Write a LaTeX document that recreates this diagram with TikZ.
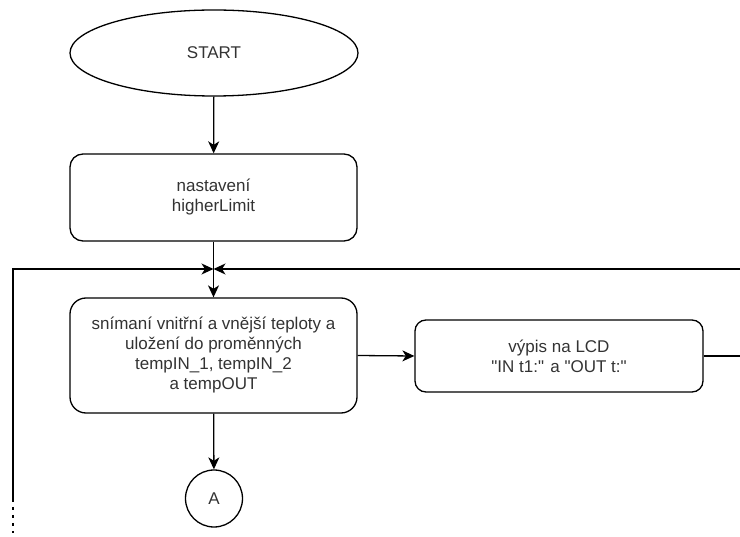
\documentclass[tikz,border=0pt]{standalone}
\usepackage{fontspec}
\setmainfont{Liberation Sans}
\usetikzlibrary{shapes.geometric,arrows.meta}
\definecolor{txt}{HTML}{333333}
\begin{document}
\begin{tikzpicture}[x=1pt,y=-1pt,
  line width=1.3pt,
  lbl/.style={font=\fontsize{17}{20}\selectfont, text=txt, align=center},
  procbox/.style={lbl, draw, rounded corners=#1, inner sep=0pt},
  procbox/.default=13pt,
  startshape/.style={lbl, draw, ellipse, inner sep=0pt, minimum width=288pt, minimum height=86pt},
  conn/.style={draw, circle, lbl, minimum size=57pt, inner sep=0pt},
  arr/.style={-{Stealth[length=12pt,width=11pt,inset=3.5pt]}}
]
\useasboundingbox (0,0) rectangle (740,537);

\node[startshape] (start) at (214,53) {START};
\node[procbox=13pt, minimum width=287pt, minimum height=87pt] (b1) at (213.5,197.5) {nastavení\\higherLimit};
\node[procbox=16pt, minimum width=287pt, minimum height=115pt] (b2) at (213.5,355.5)
  {snímaní vnitřní a vnější teploty a\\uložení do proměnných\\tempIN\_1, tempIN\_2\\a tempOUT};
\node[procbox=11pt, minimum width=288pt, minimum height=72pt] (b3) at (559,356)
  {výpis na LCD\\\textquotedbl IN t1:\textquotedbl{} a \textquotedbl OUT t:\textquotedbl};
\node[conn] (A) at (214,498.5) {A};

\coordinate (J) at (213.5,269);
\coordinate (L1) at (13,499);
\coordinate (L2) at (13,533);
\coordinate (R1) at (740,356);
\coordinate (R2) at (740,269);

\draw[arr] (start) -- (b1);
\draw[arr] (b1) -- (b2);
\draw[arr] (b2.east) -- (b3.west);
\draw[arr] (b2) -- (A);
\draw (b3.east) -- (R1);
\draw[arr] (R2) -- (J);
\draw[arr] (L1) |- (J);
\draw[dash pattern=on 3pt off 5pt] (L1) -- (L2);
\end{tikzpicture}
\end{document}
